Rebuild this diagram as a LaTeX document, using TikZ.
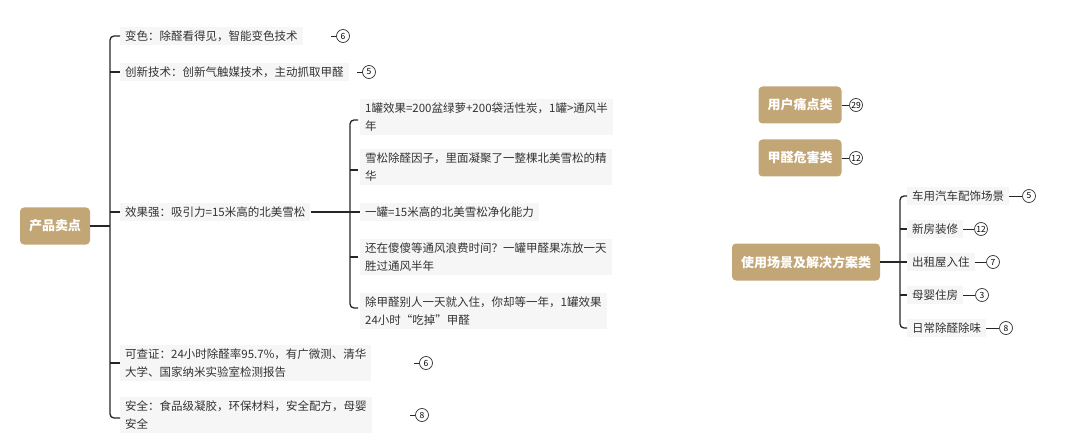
\documentclass[tikz,border=0pt]{standalone}
\usepackage{fontspec}
\setmainfont{Noto Sans CJK SC}
\begin{document}
\begin{tikzpicture}[x=1pt,y=-1pt,
  root/.style={fill=rootc,rounded corners=4pt,text=white,font=\fontsize{13}{15}\selectfont\bfseries,inner xsep=9pt,minimum height=37pt},
  leaf/.style={fill=leafc,anchor=west,align=left,font=\fontsize{11.5}{18}\selectfont,text=black!80,inner xsep=5pt,inner ysep=4pt},
  badge/.style={circle,draw=black!80,line width=0.7pt,inner sep=0pt,minimum size=13pt,font=\fontsize{8.5}{9}\selectfont},
  br/.style={draw=black!85,line width=1.3pt,rounded corners=4pt},
  tk/.style={draw=black!85,line width=0.7pt}]
\definecolor{rootc}{HTML}{C3A676}
\definecolor{leafc}{HTML}{F6F6F6}
\useasboundingbox (0,0) rectangle (1080,441);
% left
\node[root] (r) at (55,226) {产品卖点};
\node[leaf] (a1) at (120,36) {变色：除醛看得见，智能变色技术};
\node[leaf] (a2) at (120,72) {创新技术：创新气触媒技术，主动抓取甲醛};
\node[leaf] (a3) at (120,212) {效果强：吸引力=15米高的北美雪松};
\node[leaf] (a4) at (120,363) {可查证：24小时除醛率95.7\%，有广微测、清华\\大学、国家纳米实验室检测报告};
\node[leaf] (a5) at (120,415) {安全：食品级凝胶，环保材料，安全配方，母婴\\安全};
\node[badge] (b1) at (343,36) {6};
\node[badge] (b2) at (369,72) {5};
\node[badge] (b4) at (426,363) {6};
\node[badge] (b5) at (422,415) {8};
\draw[br] (r.east) -- (110,226);
\draw[br] (a1.west) -- (110,36) -- (110,418) -- (a5.west|-0,418);
\foreach \n in {a2,a3} \draw[br] (110,0|-\n.west) -- (\n.west);
\draw[br] (110,363) -- (a4.west);
\foreach \n/\b in {a1/b1,a2/b2,a4/b4,a5/b5} \draw[tk] (\b.west) ++(-5,0) -- (\b.west);
\node[leaf] (c1) at (360,117) {1罐效果=200盆绿萝+200袋活性炭，1罐>通风半\\年};
\node[leaf] (c2) at (360,167) {雪松除醛因子，里面凝聚了一整棵北美雪松的精\\华};
\node[leaf] (c3) at (360,212) {一罐=15米高的北美雪松净化能力};
\node[leaf] (c4) at (360,257) {还在傻傻等通风浪费时间？一罐甲醛果冻放一天\\胜过通风半年};
\node[leaf] (c5) at (360,311) {除甲醛别人一天就入住，你却等一年，1罐效果\\24小时“吃掉”甲醛};
\draw[br] (a3.east) -- (c3.west);
\draw[br] (358,120) -- (350,120) -- (350,308) -- (358,308);
\draw[br] (350,170) -- (358,170);
\draw[br] (350,257) -- (358,257);
% right
\node[root] (u) at (800,105) {用户痛点类};
\node[root] (h) at (800,158) {甲醛危害类};
\node[root] (s) at (806,262) {使用场景及解决方案类};
\node[badge] (ub) at (856,105) {29};
\node[badge] (hb) at (856,158) {12};
\draw[tk] (u.east) -- (ub.west);
\draw[tk] (h.east) -- (hb.west);
\node[leaf] (d1) at (907,196) {车用汽车配饰场景};
\node[leaf] (d2) at (907,229) {新房装修};
\node[leaf] (d3) at (907,262) {出租屋入住};
\node[leaf] (d4) at (907,295) {母婴住房};
\node[leaf] (d5) at (907,328) {日常除醛除味};
\node[badge] (e1) at (1029,196) {5};
\node[badge] (e2) at (981,229) {12};
\node[badge] (e3) at (993,262) {7};
\node[badge] (e4) at (982,295) {3};
\node[badge] (e5) at (1006,328) {8};
\foreach \i in {1,...,5} \draw[tk] (d\i.east) -- (e\i.west);
\draw[br] (s.east) -- (d3.west);
\draw[br] (d1.west) -- (900,196) -- (900,328) -- (d5.west);
\draw[br] (900,229) -- (d2.west);
\draw[br] (900,295) -- (d4.west);
\end{tikzpicture}
\end{document}
